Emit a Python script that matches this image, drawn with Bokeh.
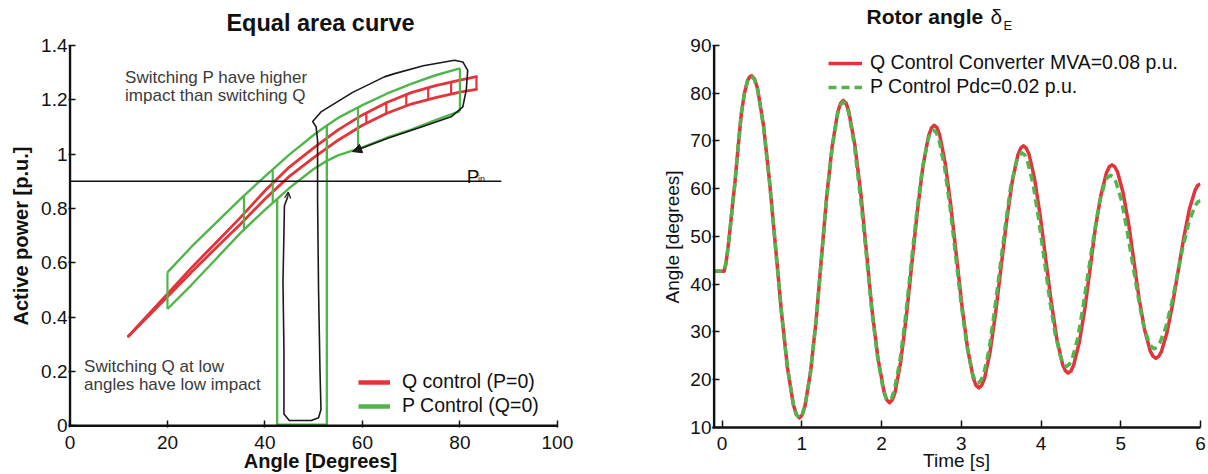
import numpy as np
from bokeh.plotting import figure
from bokeh.layouts import row
from bokeh.models import (Range1d, FixedTicker, Label, Legend, LegendItem, Arrow,
                          NormalHead, OpenHead, Title)
from bokeh.embed import file_html
from bokeh.resources import INLINE

FONT = "Liberation Sans"
RED = "#e3343b"
GREEN = "#52b54b"
INK = "#111111"
GRAY = "#3a3a3a"

# ------------------------------------------------------------------ left panel data
left_x_ticks = [0, 20, 40, 60, 80, 100]
left_y_ticks = [0, 0.2, 0.4, 0.6, 0.8, 1.0, 1.2, 1.4]
left_y_labels = ["0", "0.2", "0.4", "0.6", "0.8", "1", "1.2", "1.4"]

# Q control band (red)
red_delta = [12, 16, 20, 25, 30, 35, 40, 45, 50, 55, 60, 65, 70, 75, 80, 83.4]
red_upper = [0.33, 0.408, 0.485, 0.583, 0.675, 0.767, 0.865, 0.952, 1.023, 1.089,
             1.144, 1.19, 1.226, 1.252, 1.272, 1.285]
red_lower = [0.33, 0.402, 0.475, 0.567, 0.655, 0.743, 0.835, 0.918, 0.987, 1.051,
             1.106, 1.15, 1.184, 1.208, 1.228, 1.238]
red_tick_delta = [60.8, 64.9, 69.0, 73.5, 78.2]

# P control band (green)
green_delta = [20, 25, 30, 35, 40, 45, 50, 52.7, 55, 60, 65, 70, 75, 80]
green_upper = [0.565, 0.66, 0.748, 0.835, 0.918, 0.998, 1.07, 1.105, 1.133, 1.18,
               1.222, 1.258, 1.29, 1.315]
green_lower = [0.43, 0.52, 0.615, 0.71, 0.795, 0.875, 0.945, 0.975, 0.995, 1.025,
               1.06, 1.09, 1.125, 1.158]
green_tick_delta = [20, 35.7, 41.6, 59.1, 80]
green_box_left = 42.5
green_box_right = 52.7

pin_level = 0.9
pin_extent = [0, 88.5]

# hand-drawn trajectory outline (black)
outline_delta = [58.0, 59.8, 65.2, 72.1, 78.2, 80.6, 81.3, 81.6, 80.6, 78.9, 72.5, 66.6,
                 64.5, 58.0, 51.5, 49.8, 50.5, 50.8, 50.8, 51.0, 51.3, 51.5, 51.0, 49.5,
                 45.0, 43.9, 43.9, 43.7, 43.9, 44.0, 44.7]
outline_power = [1.009, 1.021, 1.058, 1.10, 1.137, 1.174, 1.235, 1.308, 1.339, 1.345, 1.325,
                 1.296, 1.284, 1.227, 1.155, 1.12, 1.10, 1.05, 0.83, 0.50, 0.20, 0.06,
                 0.03, 0.02, 0.02, 0.044, 0.28, 0.53, 0.71, 0.81, 0.844]
arrow_top = dict(x0=59.8, y0=1.021, x1=58.0, y1=1.009)
arrow_low = dict(x0=44.7, y0=0.844, x1=44.8, y1=0.860)

# ------------------------------------------------------------------ right panel data
right_x_ticks = [0, 1, 2, 3, 4, 5, 6]
right_y_ticks = [10, 20, 30, 40, 50, 60, 70, 80, 90]
right_t_start = -0.1

time_q = [-0.1, 0.0, 0.025, 0.05, 0.075, 0.10, 0.13, 0.16, 0.20, 0.24, 0.28, 0.32, 0.345,
          0.37, 0.4075, 0.445, 0.52, 0.595, 0.67, 0.745, 0.82, 0.895, 0.9325,
          0.97, 1.004, 1.04, 1.11, 1.18, 1.245, 1.31, 1.38, 1.45, 1.486,
          1.52, 1.556, 1.59, 1.665, 1.74, 1.81, 1.88, 1.955, 2.03, 2.064,
          2.10, 2.135, 2.17, 2.24, 2.31, 2.38, 2.45, 2.52, 2.59, 2.625,
          2.66, 2.695, 2.73, 2.80, 2.87, 2.94, 3.01, 3.08, 3.15, 3.185,
          3.22, 3.255, 3.29, 3.36, 3.43, 3.50, 3.57, 3.64, 3.71, 3.745,
          3.78, 3.815, 3.85, 3.92, 3.99, 4.06, 4.13, 4.20, 4.27, 4.305,
          4.34, 4.374, 4.41, 4.48, 4.55, 4.615, 4.68, 4.75, 4.82, 4.856,
          4.89, 4.924, 4.96, 5.03, 5.10, 5.165, 5.23, 5.30, 5.37, 5.406,
          5.44, 5.475, 5.51, 5.58, 5.65, 5.72, 5.79, 5.86, 5.93, 5.965, 6.0]
angle_q = [42.7, 42.7, 42.7, 44.5, 47.7, 51.5, 56.5, 61.0, 68.5, 75.5, 80.0, 82.7, 83.4,
           83.7, 83.0, 81.0, 73.2, 61.6, 47.9, 34.1, 22.5, 14.7, 12.7,
           12.0, 12.6, 14.5, 21.7, 32.5, 45.3, 58.0, 68.8, 76.0, 77.9,
           78.5, 77.9, 76.1, 69.2, 59.0, 46.9, 34.7, 24.5, 17.6, 15.8,
           15.2, 15.8, 17.4, 23.7, 33.1, 44.3, 55.4, 64.8, 71.1, 72.7,
           73.3, 72.8, 71.2, 65.2, 56.3, 45.8, 35.3, 26.4, 20.4, 18.8,
           18.3, 18.8, 20.2, 25.7, 33.9, 43.7, 53.4, 61.6, 67.1, 68.5,
           69.0, 68.5, 67.2, 62.0, 54.3, 45.2, 36.1, 28.4, 23.2, 21.9,
           21.4, 21.8, 23.1, 27.8, 34.9, 43.2, 51.6, 58.6, 63.3, 64.6,
           65.0, 64.6, 63.5, 59.1, 52.5, 44.8, 37.0, 30.4, 26.0, 24.9,
           24.5, 24.9, 25.9, 29.9, 35.8, 42.8, 49.7, 55.7, 59.6, 60.7, 61.0]

time_p = [-0.1, 0.0, 0.025, 0.05, 0.075, 0.10, 0.13, 0.16, 0.20, 0.24, 0.28, 0.32, 0.345,
          0.37, 0.4075, 0.445, 0.52, 0.595, 0.67, 0.745, 0.82, 0.895, 0.9325,
          0.97, 1.004, 1.04, 1.11, 1.18, 1.245, 1.31, 1.38, 1.45, 1.486,
          1.52, 1.556, 1.59, 1.66, 1.73, 1.805, 1.875, 1.95, 2.02, 2.054,
          2.09, 2.125, 2.16, 2.23, 2.30, 2.37, 2.44, 2.51, 2.58, 2.615,
          2.65, 2.685, 2.72, 2.79, 2.86, 2.93, 3.00, 3.07, 3.14, 3.175,
          3.21, 3.244, 3.28, 3.35, 3.415, 3.485, 3.555, 3.62, 3.69, 3.726,
          3.76, 3.795, 3.83, 3.90, 3.97, 4.04, 4.11, 4.18, 4.25, 4.285,
          4.32, 4.354, 4.39, 4.46, 4.525, 4.595, 4.665, 4.73, 4.80, 4.836,
          4.87, 4.904, 4.94, 5.01, 5.075, 5.145, 5.215, 5.28, 5.35, 5.386,
          5.42, 5.456, 5.49, 5.565, 5.64, 5.71, 5.78, 5.855, 5.93, 5.964, 6.0]
angle_p = [42.7, 42.7, 42.7, 44.5, 47.7, 51.5, 56.5, 61.0, 68.5, 75.5, 80.0, 82.6, 83.2,
           83.5, 82.8, 80.8, 73.0, 61.4, 47.8, 34.1, 22.5, 14.7, 12.7,
           12.0, 12.6, 14.5, 21.7, 32.4, 45.1, 57.8, 68.5, 75.7, 77.6,
           78.2, 77.6, 75.8, 69.0, 58.9, 46.9, 34.9, 24.8, 18.0, 16.2,
           15.6, 16.1, 17.8, 23.9, 33.1, 44.0, 54.8, 64.0, 70.2, 71.8,
           72.3, 71.8, 70.3, 64.5, 56.0, 45.8, 35.7, 27.1, 21.3, 19.8,
           19.3, 19.8, 21.1, 26.4, 34.2, 43.4, 52.6, 60.4, 65.7, 67.0,
           67.5, 67.1, 65.8, 61.0, 53.7, 45.2, 36.6, 29.4, 24.5, 23.2,
           22.8, 23.2, 24.3, 28.7, 35.1, 42.8, 50.5, 56.9, 61.3, 62.4,
           62.8, 62.5, 61.4, 57.5, 51.6, 44.7, 37.7, 31.8, 27.9, 26.9,
           26.5, 26.8, 27.7, 31.0, 36.1, 42.0, 47.9, 53.0, 56.3, 57.2, 57.5]


def style_axes(p, xt, yt, y_over=None, hide_x_line=False):
    p.outline_line_color = None
    p.xgrid.visible = False
    p.ygrid.visible = False
    p.background_fill_color = "white"
    p.border_fill_color = "white"
    for ax in p.axis:
        ax.axis_line_width = 2.5
        ax.axis_line_color = INK
        ax.major_tick_in = 7
        ax.major_tick_out = 0
        ax.minor_tick_in = 0
        ax.minor_tick_out = 0
        ax.major_tick_line_width = 1.5
        ax.major_tick_line_color = INK
        ax.major_label_text_font = FONT
        ax.major_label_text_font_size = "19px"
        ax.major_label_text_color = INK
    p.yaxis.axis_line_color = None          # drawn as a glyph so it stops at the top tick
    if hide_x_line:
        p.xaxis.axis_line_color = None
    p.xaxis.ticker = FixedTicker(ticks=xt)
    p.yaxis.ticker = FixedTicker(ticks=yt)
    p.yaxis.major_label_standoff = 1
    if y_over:
        p.yaxis.major_label_overrides = y_over
    p.xaxis.axis_label_text_font = FONT
    p.xaxis.axis_label_text_color = INK


def label(p, text, x, y, size, units="screen", color=INK, **kw):
    p.add_layout(Label(x=x, y=y, x_units=units, y_units=units, text=text,
                       text_font=FONT, text_font_size=size, text_color=color, **kw))


# ================================================================== LEFT
p1 = figure(width=608, height=474, x_range=Range1d(-0.3, 103.1), y_range=Range1d(-0.006, 1.565),
            output_backend="svg", toolbar_location=None, title=None,
            min_border_left=68, min_border_right=36, min_border_top=0, min_border_bottom=45)
style_axes(p1, left_x_ticks, left_y_ticks, dict(zip(left_y_ticks, left_y_labels)), hide_x_line=True)
p1.xaxis.major_label_standoff = 8
p1.xaxis.axis_label = "Angle [Degrees]"
p1.xaxis.axis_label_text_font_size = "20px"
p1.xaxis.axis_label_text_font_style = "bold"
p1.xaxis.axis_label_standoff = -2

# red band
p1.line(red_delta, red_upper, line_color=RED, line_width=2.8, line_cap="round")
p1.line(red_delta, red_lower, line_color=RED, line_width=2.8, line_cap="round")
rt_top = np.interp(red_tick_delta, red_delta, red_upper)
rt_bot = np.interp(red_tick_delta, red_delta, red_lower)
p1.segment(x0=red_tick_delta, y0=rt_bot, x1=red_tick_delta, y1=rt_top, line_color=RED, line_width=2.2)
p1.segment(x0=[red_delta[-1]], y0=[red_lower[-1]], x1=[red_delta[-1]], y1=[red_upper[-1]],
           line_color=RED, line_width=2.2)

# green band
p1.line(green_delta, green_upper, line_color=GREEN, line_width=2.4)
p1.line(green_delta, green_lower, line_color=GREEN, line_width=2.4)
gt_top = np.interp(green_tick_delta, green_delta, green_upper)
gt_bot = np.interp(green_tick_delta, green_delta, green_lower)
p1.segment(x0=green_tick_delta, y0=gt_bot, x1=green_tick_delta, y1=gt_top, line_color=GREEN, line_width=2.2)
box_x = [green_box_left, green_box_left, green_box_right, green_box_right]
box_y = [float(np.interp(green_box_left, green_delta, green_lower)), 0.004, 0.004,
         float(np.interp(green_box_right, green_delta, green_upper))]
p1.line(box_x, box_y, line_color=GREEN, line_width=2.4)

# outline trajectory
p1.line(outline_delta, outline_power, line_color="#1a1a1a", line_width=1.6, line_join="round")
p1.add_layout(Arrow(end=NormalHead(size=9, fill_color="#1a1a1a", line_color="#1a1a1a", line_width=1),
                    x_start=arrow_top["x0"], y_start=arrow_top["y0"],
                    x_end=arrow_top["x1"], y_end=arrow_top["y1"], line_color="#1a1a1a", line_width=1.6))
p1.add_layout(Arrow(end=OpenHead(size=6, line_color="#1a1a1a", line_width=1.3),
                    x_start=arrow_low["x0"], y_start=arrow_low["y0"],
                    x_end=arrow_low["x1"], y_end=arrow_low["y1"], line_color="#1a1a1a", line_width=1.4))

# P_in line
p1.line(pin_extent, [pin_level, pin_level], line_color=INK, line_width=1.6)
label(p1, "P", 81.4, 0.916, "19px", units="data", text_baseline="alphabetic")
label(p1, "in", 83.7, 0.910, "9px", units="data", text_baseline="alphabetic")

# axis lines (stop at the last tick, as in the reference)
p1.line([left_x_ticks[0], left_x_ticks[0]], [left_y_ticks[0], left_y_ticks[-1]], line_color=INK, line_width=2.5)
p1.line([left_x_ticks[0], left_x_ticks[-1]], [left_y_ticks[0], left_y_ticks[0]], line_color=INK, line_width=2.5)

# annotations
label(p1, "Switching P have higher", 11.3, 1.283, "17px", units="data", color=GRAY, text_baseline="middle")
label(p1, "impact than switching Q", 11.3, 1.215, "17px", units="data", color=GRAY, text_baseline="middle")
label(p1, "Switching Q at low", 2.9, 0.22, "17px", units="data", color=GRAY, text_baseline="middle")
label(p1, "angles have low impact", 2.9, 0.153, "17px", units="data", color=GRAY, text_baseline="middle")

# legend (proxies with thicker lines)
lr = p1.line([np.nan], [np.nan], line_color=RED, line_width=4.5)
lg = p1.line([np.nan], [np.nan], line_color=GREEN, line_width=4.5)
leg1 = Legend(items=[LegendItem(label="Q control (P=0)", renderers=[lr]),
                     LegendItem(label="P Control (Q=0)", renderers=[lg])],
              location=(290, 10), border_line_color=None, background_fill_alpha=0,
              padding=0, margin=0, spacing=1, glyph_width=32, glyph_height=22,
              label_height=22, label_standoff=12, label_text_font=FONT,
              label_text_font_size="19.5px", label_text_color=INK)
p1.add_layout(leg1)

# title & y label
label(p1, "Equal area curve", 252, 405, "23.5px", text_font_style="bold", text_align="center",
      text_baseline="alphabetic")
p1.add_layout(Title(text="Active power [p.u.]", align="left", offset=102, text_font=FONT,
                    text_font_size="20px", text_font_style="bold", text_color=INK, standoff=13), "left")

# ================================================================== RIGHT
p2 = figure(width=598, height=474, x_range=Range1d(-0.12, 6.0), y_range=Range1d(10, 99.42),
            output_backend="svg", toolbar_location=None, title=None,
            min_border_left=104, min_border_right=6, min_border_top=0, min_border_bottom=47)
style_axes(p2, right_x_ticks, right_y_ticks)
p2.xaxis.major_label_standoff = 9
p2.xaxis.axis_label = "Time [s]"
p2.xaxis.axis_label_text_font_size = "19px"
p2.xaxis.axis_label_text_font_style = "normal"
p2.xaxis.axis_label_standoff = -3

rq = p2.line(time_q, angle_q, line_color=RED, line_width=3.5, line_join="round")
rp = p2.line(time_p, angle_p, line_color=GREEN, line_width=3.5, line_dash="8 5", line_join="round")
p2.line([right_t_start, right_t_start], [right_y_ticks[0], right_y_ticks[-1]], line_color=INK, line_width=2.5)

leg2 = Legend(items=[LegendItem(label="Q Control Converter MVA=0.08 p.u.", renderers=[rq]),
                     LegendItem(label="P Control Pdc=0.02 p.u.", renderers=[rp])],
              location=(116, 329), border_line_color=None, background_fill_alpha=0,
              padding=0, margin=0, spacing=1, glyph_width=34, glyph_height=22,
              label_height=22, label_standoff=8, label_text_font=FONT,
              label_text_font_size="19.5px", label_text_color=INK)
p2.add_layout(leg2)

label(p2, "Rotor angle", 154, 411, "21px", text_font_style="bold", text_baseline="alphabetic")
label(p2, "δ", 278, 411, "21px", text_baseline="alphabetic")
label(p2, "E", 291, 402, "13px", text_baseline="alphabetic")
p2.add_layout(Title(text="Angle [degrees]", align="left", offset=124, text_font=FONT,
                    text_font_size="19px", text_font_style="normal", text_color=INK, standoff=10), "left")

layout = row(p1, p2)
open("out.html", "w").write(file_html(layout, INLINE))
